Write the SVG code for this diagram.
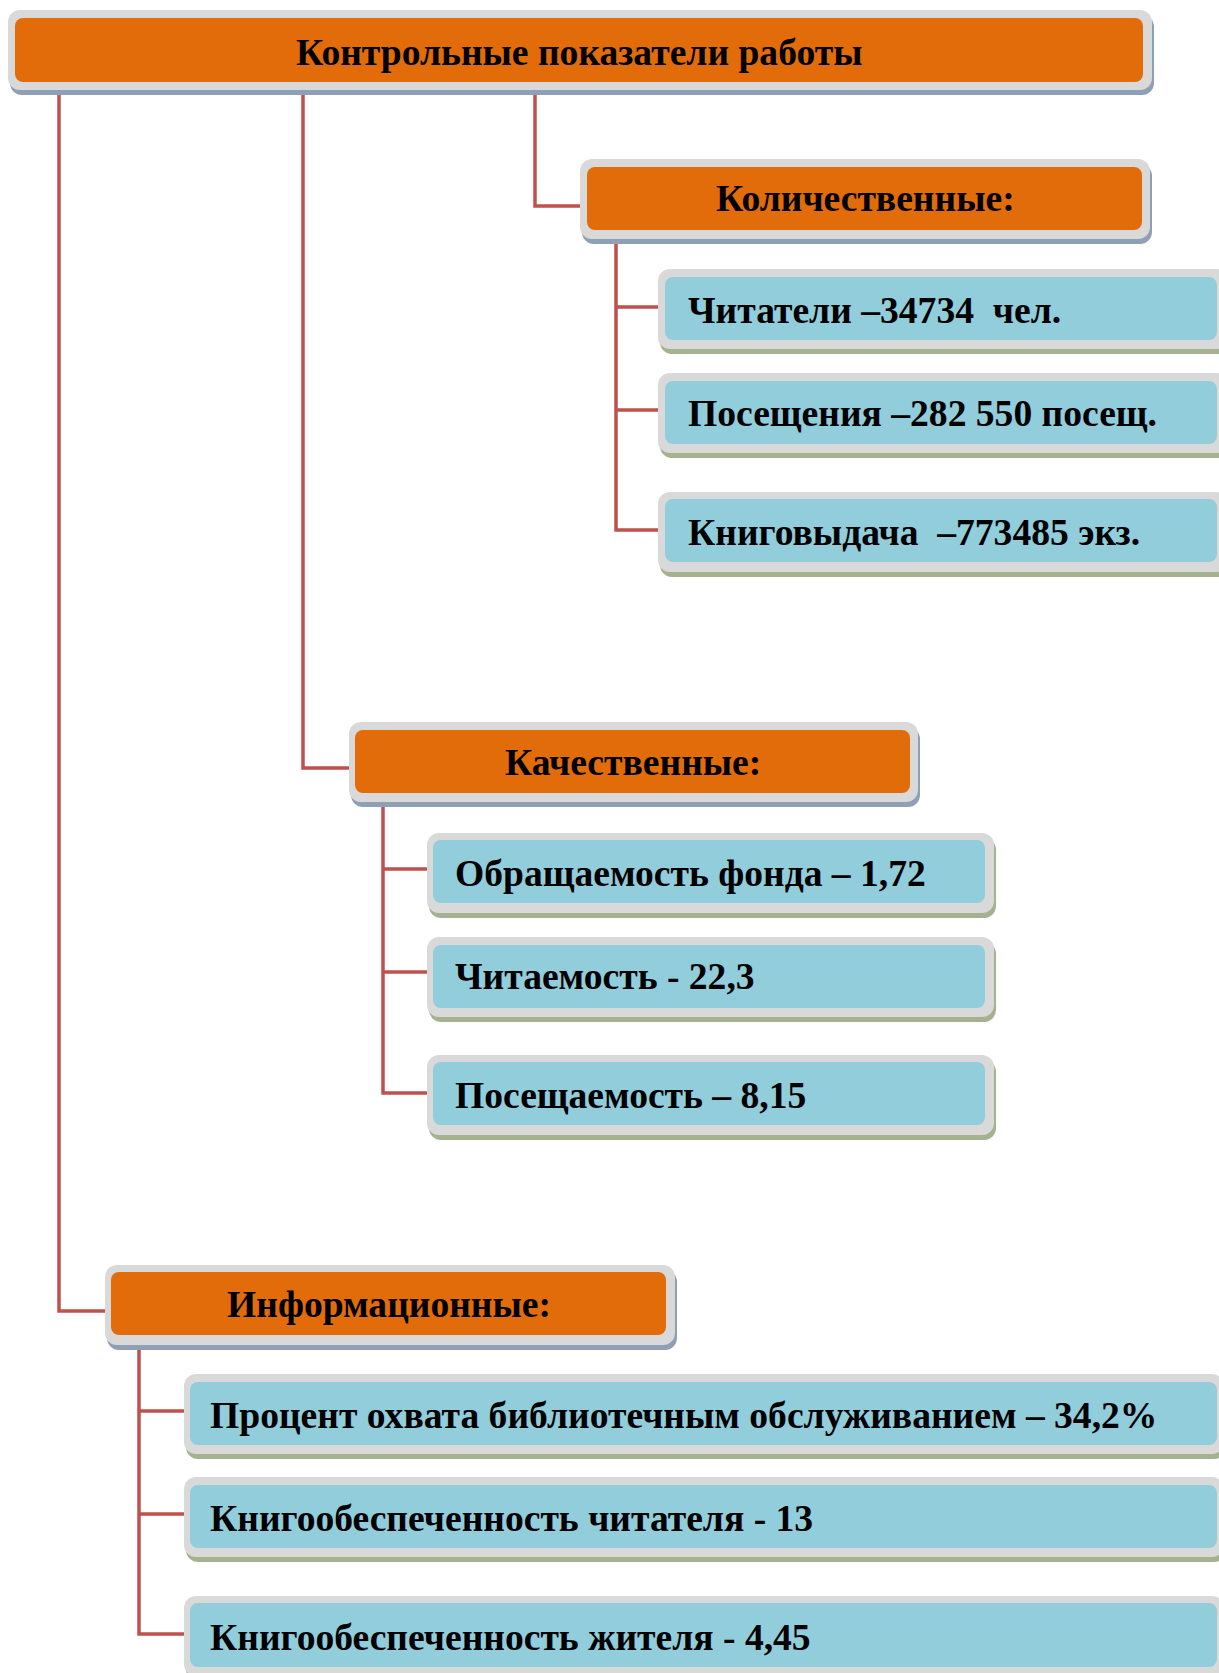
<svg xmlns="http://www.w3.org/2000/svg" width="1219" height="1673" viewBox="0 0 1219 1673">
<style>
.sh-o{fill:#8F9FB6}
.sh-b{fill:#A4B290}
.rim{fill:#D9D9D9}
.org{fill:#E36C0A}
.blu{fill:#92CDDC}
.t{font-family:"Liberation Serif","Times New Roman",serif;font-weight:bold;font-size:37.6px;fill:#000}
.con{fill:none;stroke:#C0504D;stroke-width:3.5}
</style>
<rect width="1219" height="1673" fill="#FFFFFF"/>
<g id="connectors">
<path class="con" d="M535,90 V206 H580"/>
<path class="con" d="M303,90 V768 H349"/>
<path class="con" d="M59,90 V1311 H105"/>
<path class="con" d="M616,239 V530 H658 M616,307 H658 M616,410 H658"/>
<path class="con" d="M383,802 V1093 H427 M383,869 H427 M383,972 H427"/>
<path class="con" d="M139,1345 V1634 H184 M139,1411 H184 M139,1514 H184"/>
</g>
<g id="root">
<rect class="sh-o" x="10" y="15" width="1144" height="80" rx="12"/>
<rect class="rim" x="8" y="10" width="1144" height="80" rx="12"/>
<rect class="org" x="15" y="18" width="1128" height="64" rx="8"/>
<text class="t" x="296" y="65">Контрольные показатели работы</text>
</g>
<g id="quant">
<rect class="sh-o" x="582" y="164" width="570" height="80" rx="12"/>
<rect class="rim" x="580" y="159" width="570" height="80" rx="12"/>
<rect class="org" x="587" y="167" width="555" height="63" rx="8"/>
<text class="t" x="716" y="211">Количественные:</text>
</g>
<g id="q1">
<rect class="sh-b" x="660" y="274" width="570" height="80" rx="12"/>
<rect class="rim" x="658" y="269" width="570" height="80" rx="12"/>
<rect class="blu" x="665" y="277" width="552" height="63" rx="8"/>
<text class="t" x="688" y="323" xml:space="preserve">Читатели –34734  чел.</text>
</g>
<g id="q2">
<rect class="sh-b" x="660" y="378" width="570" height="80" rx="12"/>
<rect class="rim" x="658" y="373" width="570" height="80" rx="12"/>
<rect class="blu" x="665" y="381" width="552" height="63" rx="8"/>
<text class="t" x="688" y="426">Посещения –282 550 посещ.</text>
</g>
<g id="q3">
<rect class="sh-b" x="660" y="497" width="570" height="80" rx="12"/>
<rect class="rim" x="658" y="492" width="570" height="80" rx="12"/>
<rect class="blu" x="665" y="499" width="552" height="63" rx="8"/>
<text class="t" x="688" y="545" xml:space="preserve">Книговыдача  –773485 экз.</text>
</g>
<g id="qual">
<rect class="sh-o" x="351" y="727" width="569" height="80" rx="12"/>
<rect class="rim" x="349" y="722" width="569" height="80" rx="12"/>
<rect class="org" x="355" y="730" width="555" height="63" rx="8"/>
<text class="t" x="505" y="775">Качественные:</text>
</g>
<g id="k1">
<rect class="sh-b" x="429" y="838" width="567" height="80" rx="12"/>
<rect class="rim" x="427" y="833" width="567" height="80" rx="12"/>
<rect class="blu" x="433" y="840" width="552" height="63" rx="8"/>
<text class="t" x="455" y="886">Обращаемость фонда – 1,72</text>
</g>
<g id="k2">
<rect class="sh-b" x="429" y="942" width="567" height="80" rx="12"/>
<rect class="rim" x="427" y="937" width="567" height="80" rx="12"/>
<rect class="blu" x="433" y="945" width="552" height="63" rx="8"/>
<text class="t" x="455" y="989">Читаемость - 22,3</text>
</g>
<g id="k3">
<rect class="sh-b" x="429" y="1060" width="567" height="80" rx="12"/>
<rect class="rim" x="427" y="1055" width="567" height="80" rx="12"/>
<rect class="blu" x="433" y="1062" width="552" height="63" rx="8"/>
<text class="t" x="455" y="1108">Посещаемость – 8,15</text>
</g>
<g id="info">
<rect class="sh-o" x="107" y="1270" width="570" height="80" rx="12"/>
<rect class="rim" x="105" y="1265" width="570" height="80" rx="12"/>
<rect class="org" x="111" y="1272" width="555" height="63" rx="8"/>
<text class="t" x="227" y="1317">Информационные:</text>
</g>
<g id="i1">
<rect class="sh-b" x="186" y="1379" width="1040" height="80" rx="12"/>
<rect class="rim" x="184" y="1374" width="1040" height="80" rx="12"/>
<rect class="blu" x="190" y="1382" width="1027" height="63" rx="8"/>
<text class="t" x="210" y="1428">Процент охвата библиотечным обслуживанием – 34,2%</text>
</g>
<g id="i2">
<rect class="sh-b" x="186" y="1482" width="1040" height="80" rx="12"/>
<rect class="rim" x="184" y="1477" width="1040" height="80" rx="12"/>
<rect class="blu" x="190" y="1485" width="1027" height="63" rx="8"/>
<text class="t" x="210" y="1531">Книгообеспеченность читателя - 13</text>
</g>
<g id="i3">
<rect class="sh-b" x="186" y="1601" width="1040" height="80" rx="12"/>
<rect class="rim" x="184" y="1596" width="1040" height="80" rx="12"/>
<rect class="blu" x="190" y="1603" width="1027" height="64" rx="8"/>
<text class="t" x="210" y="1650">Книгообеспеченность жителя - 4,45</text>
</g>
</svg>
